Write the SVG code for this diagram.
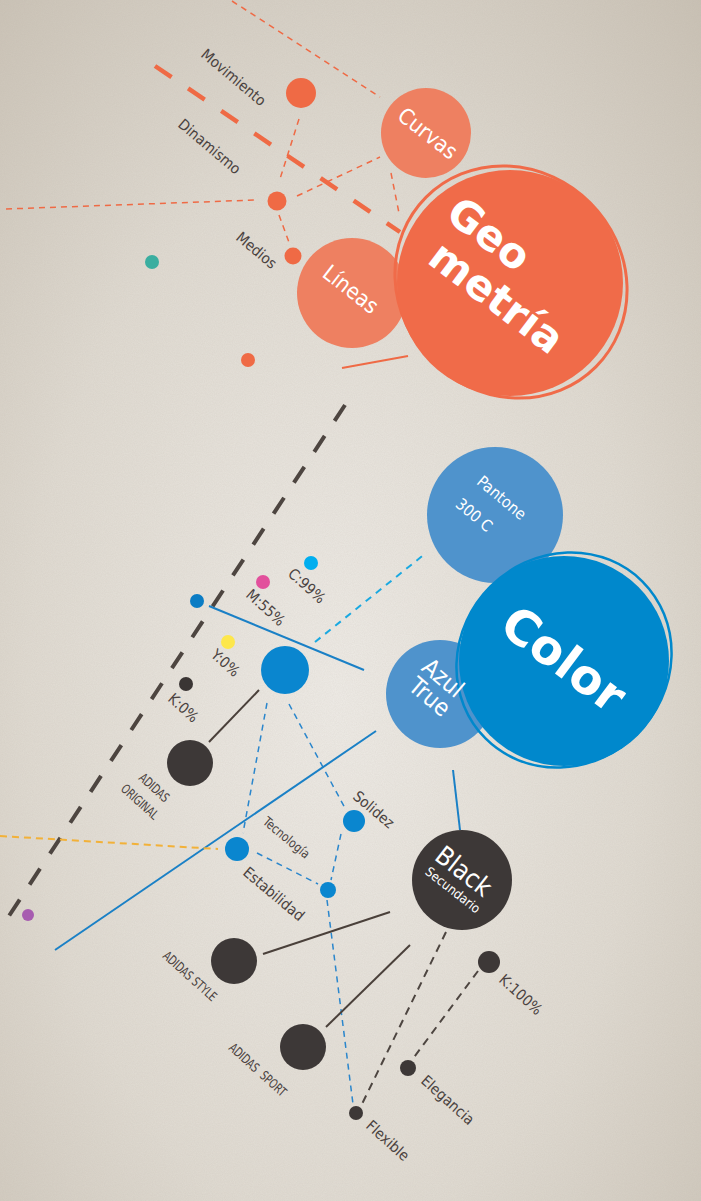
<svg xmlns="http://www.w3.org/2000/svg" width="701" height="1201" viewBox="0 0 701 1201">
<defs>
<radialGradient id="bg" cx="0.48" cy="0.58" r="0.8">
<stop offset="0" stop-color="#efece7"/>
<stop offset="0.55" stop-color="#e0dbd2"/>
<stop offset="1" stop-color="#c8c0b3"/>
</radialGradient>
<filter id="grain" x="0" y="0" width="100%" height="100%">
<feTurbulence type="fractalNoise" baseFrequency="0.9" numOctaves="2" seed="3"/>
<feColorMatrix type="matrix" values="0 0 0 0 0.45  0 0 0 0 0.4  0 0 0 0 0.35  0 0 0 0.35 0"/>
</filter>
<style>
.lbl{font-family:"DejaVu Sans Condensed","Liberation Sans Narrow","Roboto",sans-serif;fill:#4a4240;font-size:15px}
.sm{font-size:13px}
.wt{font-family:"DejaVu Sans Condensed","Roboto",sans-serif;fill:#ffffff;text-anchor:middle}
.big{font-family:"DejaVu Sans","Open Sans",sans-serif;font-weight:bold;fill:#ffffff;text-anchor:middle}
.od{stroke:#ef6a45;stroke-width:1.5;stroke-dasharray:6 5;fill:none}
.bd{stroke:#2a86cc;stroke-width:1.5;stroke-dasharray:6 5;fill:none}
.kd{stroke:#4d4540;stroke-width:2;stroke-dasharray:8 6;fill:none}
.bl{stroke:#1a80c6;stroke-width:2;fill:none}
.kl{stroke:#4a403a;stroke-width:2;fill:none}
.or{fill:#ef6a45}
.sal{fill:#ee8061}
.lb{fill:#4f93cc}
.blu{fill:#0a86cf}
.blk{fill:#3d3837}
</style>
</defs>
<rect width="701" height="1201" fill="url(#bg)"/>
<rect width="701" height="1201" filter="url(#grain)" opacity="0.5"/>

<g id="connectors">
<line class="od" x1="232" y1="1" x2="380" y2="97"/>
<line x1="155" y1="66" x2="400" y2="232" stroke="#ef6a45" stroke-width="4.5" stroke-dasharray="20 20"/>
<line class="od" x1="6" y1="209" x2="256" y2="200"/>
<line class="od" x1="299" y1="119" x2="279" y2="182"/>
<line class="od" x1="297" y1="196" x2="380" y2="157"/>
<line class="od" x1="391" y1="173" x2="399" y2="213"/>
<line class="od" x1="279" y1="215" x2="290" y2="245"/>
<line x1="342" y1="368" x2="408" y2="356" stroke="#ef6a45" stroke-width="2"/>
<line x1="345" y1="405" x2="5" y2="922" stroke="#4d4540" stroke-width="4" stroke-dasharray="19 18"/>
<line class="bl" x1="209" y1="606" x2="364" y2="670"/>
<line x1="315" y1="642" x2="426" y2="553" stroke="#1aa9e1" stroke-width="2" stroke-dasharray="7 6"/>
<line class="kl" x1="259" y1="690" x2="209" y2="742"/>
<line class="bd" x1="267" y1="703" x2="243" y2="833"/>
<line class="bd" x1="289" y1="704" x2="346" y2="810"/>
<line class="bd" x1="257" y1="853" x2="318" y2="884"/>
<line class="bd" x1="341" y1="834" x2="331" y2="880"/>
<line class="bd" x1="327" y1="900" x2="353" y2="1104"/>
<line class="bl" x1="55" y1="950" x2="376" y2="731"/>
<line x1="0" y1="836" x2="218" y2="849" stroke="#f2b138" stroke-width="2" stroke-dasharray="7 5"/>
<line class="bl" x1="453" y1="770" x2="460" y2="830"/>
<line class="kl" x1="390" y1="912" x2="263" y2="954"/>
<line class="kl" x1="410" y1="945" x2="326" y2="1027"/>
<line class="kd" x1="446" y1="932" x2="362" y2="1104"/>
<line class="kd" x1="478" y1="971" x2="412" y2="1060"/>
</g>

<g id="node-movimiento">
<circle class="or" cx="301" cy="93" r="15"/>
<text class="lbl" transform="translate(200,56) rotate(40)">Movimiento</text>
</g>
<g id="node-dinamismo">
<circle class="or" cx="277" cy="201" r="9.5"/>
<text class="lbl" transform="translate(177,126) rotate(40)">Dinamismo</text>
</g>
<g id="node-medios">
<circle class="or" cx="293" cy="256" r="8.5"/>
<text class="lbl" transform="translate(235,239) rotate(40)">Medios</text>
</g>
<g id="dot-teal"><circle cx="152" cy="262" r="7" fill="#3aaea0"/></g>
<g id="dot-orange"><circle class="or" cx="248" cy="360" r="7"/></g>

<g id="node-curvas">
<circle class="sal" cx="426" cy="133" r="45"/>
<text class="wt" font-size="22" transform="translate(428,133) rotate(38)" y="8">Curvas</text>
</g>
<g id="node-lineas">
<circle class="sal" cx="352" cy="293" r="55"/>
<text class="wt" font-size="22" transform="translate(351,289) rotate(38)" y="8">Líneas</text>
</g>
<g id="node-geometria">
<ellipse cx="511" cy="282" rx="120" ry="112" transform="rotate(45 511 282)" fill="none" stroke="#f06b49" stroke-width="3"/>
<circle cx="510" cy="283" r="113" fill="#f06b49"/>
<g transform="translate(510,283) rotate(37)">
<text class="big" font-size="42" x="-46" y="-12">Geo</text>
<text class="big" font-size="42" x="-2" y="34">metría</text>
</g>
</g>

<g id="node-c"><circle cx="311" cy="563" r="7" fill="#00aeef"/><text class="lbl" font-size="14" transform="translate(287,575) rotate(42)">C:99%</text></g>
<g id="node-m"><circle cx="263" cy="582" r="7" fill="#e2509c"/><text class="lbl" font-size="14" transform="translate(245,596) rotate(42)">M:55%</text></g>
<g id="node-bdot"><circle cx="197" cy="601" r="7" fill="#0a7cc4"/></g>
<g id="node-y"><circle cx="228" cy="642" r="7" fill="#fde74c"/><text class="lbl" font-size="14" transform="translate(210,656) rotate(42)">Y:0%</text></g>
<g id="node-k"><circle cx="186" cy="684" r="7" fill="#3a3534"/><text class="lbl" font-size="14" transform="translate(167,700) rotate(42)">K:0%</text></g>
<g id="dot-purple"><circle cx="28" cy="915" r="6" fill="#a75cb0"/></g>

<g id="node-bluehub"><circle class="blu" cx="285" cy="670" r="24"/></g>
<g id="node-adidas-original">
<circle class="blk" cx="190" cy="763" r="23"/>
<text class="lbl sm" transform="translate(138,779) rotate(42) scale(0.8,1)">ADIDAS</text>
<text class="lbl sm" transform="translate(120,790) rotate(42) scale(0.8,1)">ORIGINAL</text>
</g>
<g id="node-estabilidad">
<circle class="blu" cx="237" cy="849" r="12"/>
<text class="lbl" transform="translate(242,874) rotate(40)">Estabilidad</text>
</g>
<g id="node-tecnologia">
<circle class="blu" cx="328" cy="890" r="8"/>
<text class="lbl sm" transform="translate(262,823) rotate(40) scale(0.92,1)">Tecnología</text>
</g>
<g id="node-solidez">
<circle class="blu" cx="354" cy="821" r="11"/>
<text class="lbl" font-size="14" transform="translate(352,798) rotate(40)">Solidez</text>
</g>

<g id="node-pantone">
<circle class="lb" cx="495" cy="515" r="68"/>
<g transform="translate(495,515) rotate(40)">
<text class="wt" font-size="16" x="-6" y="-12">Pantone</text>
<text class="wt" font-size="16" x="-16" y="19">300 C</text>
</g>
</g>
<g id="node-azul">
<circle class="lb" cx="440" cy="694" r="54"/>
</g>
<g id="node-color">
<ellipse cx="564" cy="660" rx="111" ry="104" transform="rotate(-45 564 660)" fill="none" stroke="#0088cc" stroke-width="2.5"/>
<circle cx="564" cy="661" r="105" fill="#0088cc"/>
<text class="big" font-size="48" transform="translate(564,659) rotate(37)" y="17">Color</text>
</g>
<g id="node-azul-label" transform="translate(440,694) rotate(40)">
<text class="wt" font-size="24" x="-8" y="-6">Azul</text>
<text class="wt" font-size="24" x="-6" y="17">True</text>
</g>

<g id="node-black">
<circle class="blk" cx="462" cy="880" r="50"/>
<g transform="translate(462,880) rotate(38)">
<text class="wt" font-size="26" x="-4" y="1">Black</text>
<text class="wt" font-size="13" x="-1" y="18">Secundario</text>
</g>
</g>
<g id="node-adidas-style">
<circle class="blk" cx="234" cy="961" r="23"/>
<text class="lbl sm" transform="translate(162,957) rotate(42) scale(0.8,1)">ADIDAS STYLE</text>
</g>
<g id="node-adidas-sport">
<circle class="blk" cx="303" cy="1047" r="23"/>
<text class="lbl sm" transform="translate(228,1049) rotate(42) scale(0.8,1)" xml:space="preserve">ADIDAS  SPORT</text>
</g>
<g id="node-k100">
<circle class="blk" cx="489" cy="962" r="11"/>
<text class="lbl" transform="translate(498,981) rotate(42)">K:100%</text>
</g>
<g id="node-elegancia">
<circle class="blk" cx="408" cy="1068" r="8"/>
<text class="lbl" transform="translate(420,1082) rotate(42)">Elegancia</text>
</g>
<g id="node-flexible">
<circle class="blk" cx="356" cy="1113" r="7"/>
<text class="lbl" transform="translate(365,1127) rotate(42)">Flexible</text>
</g>
</svg>
